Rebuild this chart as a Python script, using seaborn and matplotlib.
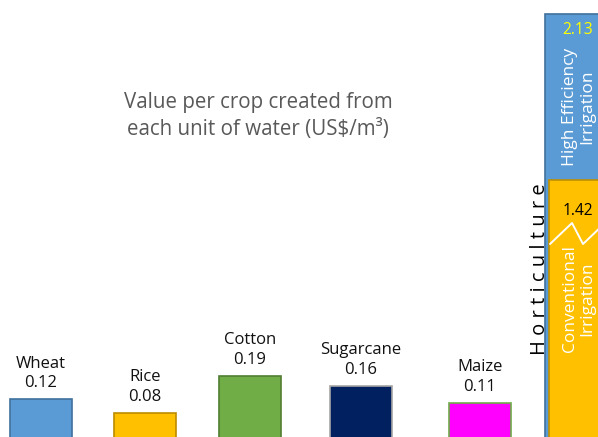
import numpy as np
import pandas as pd
import matplotlib
matplotlib.use("Agg")
import matplotlib.pyplot as plt
import seaborn as sns

# Value created per unit of water, US$/m3
crops = ["Wheat", "Rice", "Cotton", "Sugarcane", "Maize"]
crop_values = [0.12, 0.08, 0.19, 0.16, 0.11]
horti_labels = ["Conventional\nIrrigation", "High Efficiency\nIrrigation"]
horti_values = [1.42, 2.13]
horti_name = "Horticulture"

# styling
fill_colors = ["#5B9BD5", "#FFC000", "#70AD47", "#002060", "#FF00FF"]
edge_colors = ["#41719C", "#BC8C00", "#507E32", "#A6A6A6", "#70AD47"]
blue, gold = "#5B9BD5", "#FFC000"

sns.set_theme(style="white")
plt.rcParams["font.family"] = ["Open Sans", "DejaVu Sans"]

W, H = 598, 437
fig = plt.figure(figsize=(W / 100, H / 100), dpi=100)
ax = fig.add_axes([0, 0, 1, 1])

# broken value axis: linear near zero, compressed above the break
knots_data = np.array([0.0, 0.3, 1.42, 2.13, 3.0])
knots_disp = np.array([0.0, 101.4, 260.0, 426.0, 629.0])
fwd = lambda v: np.interp(v, knots_data, knots_disp)
inv = lambda d: np.interp(d, knots_disp, knots_data)
ax.set_yscale("function", functions=(fwd, inv))

# horizontal layout (pixel units)
centers = [41, 145, 250, 360.5, 480]
bar_w = 62
df = pd.DataFrame({"pos": centers, "value": crop_values, "crop": crops})
sns.barplot(data=df, x="pos", y="value", native_scale=True,
            width=bar_w / (centers[1] - centers[0]), ax=ax,
            color=fill_colors[0], errorbar=None)
for patch, fc, ec in zip(ax.patches, fill_colors, edge_colors):
    patch.set_facecolor(fc)
    patch.set_edgecolor(ec)
    patch.set_linewidth(1.2)

for x, name, v in zip(centers, crops, crop_values):
    ax.annotate(f"{name}\n{v:.2f}", xy=(x, v), xytext=(0, 8),
                textcoords="offset pixels", ha="center", va="bottom",
                fontsize=12, color="#111111", linespacing=1.3)

# horticulture: high-efficiency bar behind, conventional bar in front
hx = 576
ax.bar([hx], [horti_values[1]], width=bar_w, color=blue,
       edgecolor="#41719C", linewidth=1.2, zorder=3)
ax.bar([hx + 4], [horti_values[0]], width=bar_w, color=gold,
       edgecolor="#BF9000", linewidth=1.2, zorder=4)

ax.set_xlim(0, W)
y_bottom = inv(3.0)
y_top = inv(440.0)
ax.set_ylim(y_bottom, y_top)
ax.set_axis_off()

def px(x, y):
    return x / W, 1 - y / H

# break marker
zz = np.array([(550, 244), (572, 223), (583, 244), (605, 223)])
ax.plot(zz[:, 0] / W, 1 - zz[:, 1] / H, transform=ax.transAxes,
        color="white", lw=1.4, zorder=6, clip_on=True)

ax.text(*px(578, 30), f"{horti_values[1]:.2f}", transform=ax.transAxes,
        ha="center", va="center", color="#FFFF00", fontsize=11.2, zorder=7)
ax.text(*px(578, 211), f"{horti_values[0]:.2f}", transform=ax.transAxes,
        ha="center", va="center", color="black", fontsize=11.2, zorder=7)
ax.text(*px(579, 107), horti_labels[1], transform=ax.transAxes, rotation=90,
        ha="center", va="center", multialignment="center", color="white",
        fontsize=12.5, linespacing=1.12, zorder=7)
ax.text(*px(579, 299), horti_labels[0], transform=ax.transAxes, rotation=90,
        ha="center", va="center", multialignment="center", color="white",
        fontsize=12.5, linespacing=1.12, zorder=7)
ax.text(*px(540, 269), " ".join(horti_name), transform=ax.transAxes,
        rotation=90, ha="center", va="center", color="black", fontsize=14.5,
        zorder=7)

ax.text(*px(258, 116), "Value per crop created from\neach unit of water (US\\$/m³)",
        transform=ax.transAxes, ha="center", va="center", color="#595959",
        fontsize=14.8, linespacing=1.35)

fig.savefig("out.png", dpi=100)
